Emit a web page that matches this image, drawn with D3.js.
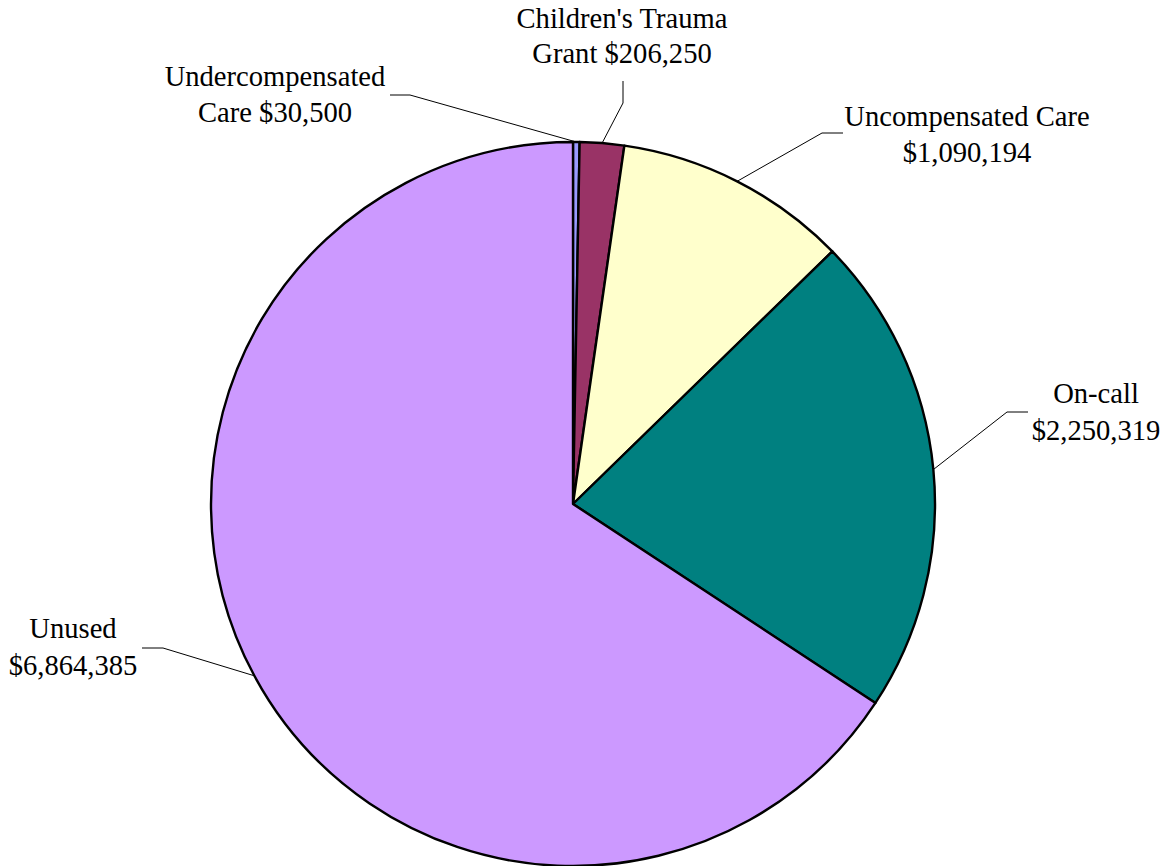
<!DOCTYPE html>
<html>
<head>
<meta charset="utf-8">
<script src="https://cdn.jsdelivr.net/npm/d3@7"></script>
<style>
  html, body { margin: 0; padding: 0; background: #fff; }
  svg { display: block; }
  text { font-family: "Liberation Serif", "Times New Roman", serif; font-size: 28.6px; fill: #000; }
</style>
</head>
<body>
<script>
// ---- data ----
const categories = ["Undercompensated Care", "Children's Trauma Grant", "Uncompensated Care", "On-call", "Unused"];
const values = [30500, 206250, 1090194, 2250319, 6864385];
const firstLineWords = [1, 2, 2, 1, 1];
const colors = ["#9999FF", "#993366", "#FFFFCC", "#008080", "#CC99FF"];

// ---- layout ----
const W = 1174, H = 866;
const cx = 573, cy = 504, R = 362;
// label layout: text centre x, first baseline y, line gap, leader stub (outer, inner)
const labelLayout = [
  { x: 275, y: 86, gap: 36, stub: [[390, 95], [410, 95]] },
  { x: 622, y: 28, gap: 35, stub: [[623, 81], [623, 103]] },
  { x: 967, y: 126, gap: 36, stub: [[843, 133], [822, 133]] },
  { x: 1096, y: 403, gap: 37, stub: [[1028, 412], [1007, 412]] },
  { x: 73, y: 638, gap: 37, stub: [[142, 648], [163, 648]] }
];

const svg = d3.select("body").append("svg").attr("width", W).attr("height", H);
const g = svg.append("g").attr("transform", `translate(${cx},${cy})`);

const data = categories.map((c, i) => ({ name: c, value: values[i], i }));
const pie = d3.pie().sort(null).value(d => d.value).startAngle(0).endAngle(2 * Math.PI);
const arcs = pie(data);
const arc = d3.arc().innerRadius(0).outerRadius(R);

g.selectAll("path.slice").data(arcs).enter().append("path")
  .attr("class", "slice")
  .attr("d", arc)
  .attr("fill", d => colors[d.data.i])
  .attr("stroke", "#000")
  .attr("stroke-width", 2.4)
  .attr("stroke-linejoin", "round");

const fmt = d3.format("$,");

arcs.forEach(a => {
  const L = labelLayout[a.data.i];
  const mid = (a.startAngle + a.endAngle) / 2;
  const ex = cx + R * Math.sin(mid), ey = cy - R * Math.cos(mid);
  svg.append("polyline")
    .attr("points", [L.stub[0], L.stub[1], [ex, ey]].map(p => p.join(",")).join(" "))
    .attr("fill", "none").attr("stroke", "#000").attr("stroke-width", 1);
  const words = a.data.name.split(" ");
  const n = firstLineWords[a.data.i];
  const line1 = words.slice(0, n).join(" ");
  const rest = words.slice(n).join(" ");
  const line2 = (rest ? rest + " " : "") + fmt(a.data.value);
  const t = svg.append("text").attr("text-anchor", "middle");
  t.append("tspan").attr("x", L.x).attr("y", L.y).text(line1);
  t.append("tspan").attr("x", L.x).attr("y", L.y + L.gap).text(line2);
});
</script>
</body>
</html>
